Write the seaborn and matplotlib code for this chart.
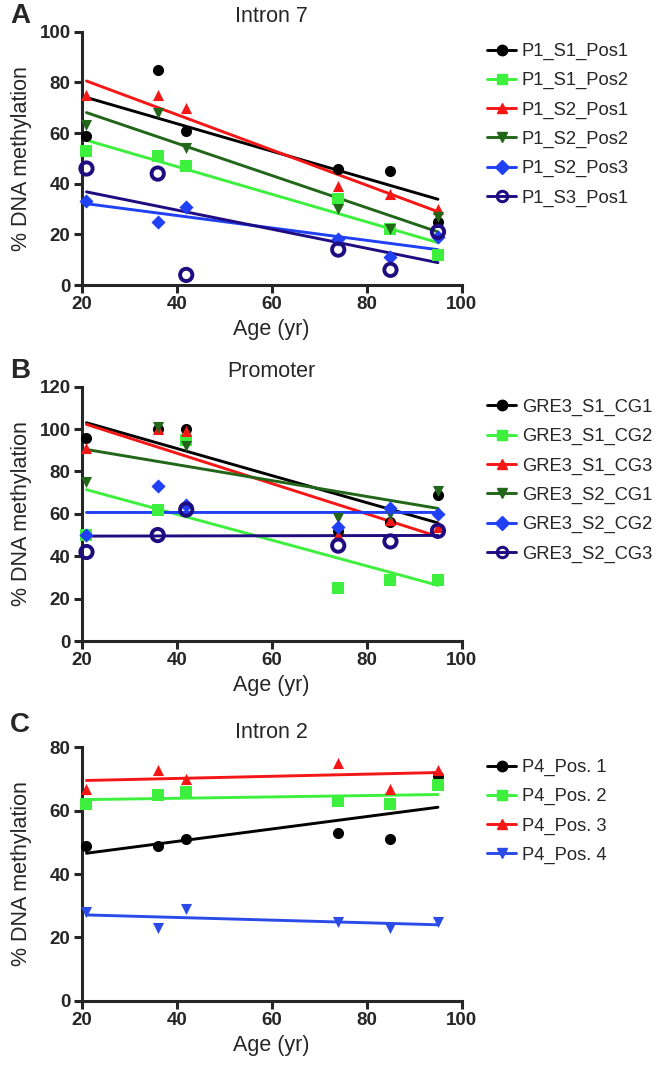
import numpy as np
import pandas as pd
import seaborn as sns
import matplotlib.pyplot as plt
from matplotlib.lines import Line2D

# idades (x) comuns aos tres paineis
age = [21, 36, 42, 74, 85, 95]

# Painel A - Intron 7
labels_a = ['P1_S1_Pos1', 'P1_S1_Pos2', 'P1_S2_Pos1', 'P1_S2_Pos2', 'P1_S2_Pos3', 'P1_S3_Pos1']
p1_s1_pos1 = [59, 85, 61, 46, 45, 25]
p1_s1_pos2 = [53, 51, 47, 34, 22, 12]
p1_s2_pos1 = [75, 75, 70, 39, 36, 30]
p1_s2_pos2 = [63, 68, 54, 30, 22, 27]
p1_s2_pos3 = [33, 25, 31, 18, 11, 19]
p1_s3_pos1 = [46, 44, 4, 14, 6, 21]

# Painel B - Promoter
labels_b = ['GRE3_S1_CG1', 'GRE3_S1_CG2', 'GRE3_S1_CG3', 'GRE3_S2_CG1', 'GRE3_S2_CG2', 'GRE3_S2_CG3']
gre3_s1_cg1 = [96, 100, 100, 52, 56, 69]
gre3_s1_cg2 = [50, 62, 95, 25, 29, 29]
gre3_s1_cg3 = [91, 100, 99, 50, 57, 54]
gre3_s2_cg1 = [75, 101, 92, 58, 60, 71]
gre3_s2_cg2 = [50, 73, 64, 54, 63, 60]
gre3_s2_cg3 = [42, 50, 62, 45, 47, 52]

# Painel C - Intron 2
labels_c = ['P4_Pos. 1', 'P4_Pos. 2', 'P4_Pos. 3', 'P4_Pos. 4']
p4_pos1 = [49, 49, 51, 53, 51, 71]
p4_pos2 = [62, 65, 66, 63, 62, 68]
p4_pos3 = [67, 73, 70, 75, 67, 73]
p4_pos4 = [28, 23, 29, 25, 23, 25]

sns.set_theme(style='ticks')
plt.rcParams['font.family'] = ['Liberation Sans', 'DejaVu Sans']

preto = '#000000'
verde_claro = '#3DF03D'
vermelho = '#F51616'
verde_escuro = '#22661A'
azul = '#2040F5'
roxo = '#1E0C80'
azul_c = '#2A4BE8'

estilo_a = [(preto, 'o', False), (verde_claro, 's', False), (vermelho, '^', False),
            (verde_escuro, 'v', False), (azul, 'D', False), (roxo, 'o', True)]
estilo_c = [(preto, 'o', False), (verde_claro, 's', False), (vermelho, '^', False),
            (azul_c, 'v', False)]

fig = plt.figure(figsize=(6.71, 10.68), dpi=100)
ax_a = fig.add_axes([0.1218, 0.7331, 0.5663, 0.2372])
ax_b = fig.add_axes([0.1218, 0.3998, 0.5663, 0.2381])
ax_c = fig.add_axes([0.1218, 0.0630, 0.5663, 0.2372])


def painel(ax, series, labels, estilos, titulo, ymax, leg_y, letra, letra_y):
    handles = []
    for vals, lab, (cor, mk, aberto) in zip(series, labels, estilos):
        df = pd.DataFrame({'age': age, 'val': vals})
        sk = dict(s=64, alpha=1, linewidths=0, zorder=3, clip_on=False)
        if aberto:
            sk.update(facecolors='none', linewidths=2.8, s=78)
        if mk == 'D':
            sk['s'] = 52
        sns.regplot(data=df, x='age', y='val', ax=ax, ci=None, marker=mk, color=cor,
                    scatter_kws=sk, line_kws=dict(lw=2.1, zorder=2))
        handles.append(Line2D([], [], color=cor, marker=mk, lw=2.1, markersize=7.5 if mk != 'D' else 7,
                              markerfacecolor='none' if aberto else cor,
                              markeredgewidth=2.2 if aberto else 1))
    ax.set_xlim(20, 100)
    ax.set_ylim(0, ymax)
    ax.set_xticks([20, 40, 60, 80, 100])
    ax.set_yticks(np.arange(0, ymax + 1, 20))
    for s in ['top', 'right']:
        ax.spines[s].set_visible(False)
    for s in ['left', 'bottom']:
        ax.spines[s].set_linewidth(2.2)
    ax.tick_params(width=2.2, length=6, pad=2, labelsize=13.5)
    for t in ax.get_xticklabels() + ax.get_yticklabels():
        t.set_fontweight('bold')
    ax.set_xlabel('Age (yr)', fontsize=15.5)
    ax.set_ylabel('% DNA methylation', fontsize=15.5)
    ax.xaxis.set_label_coords(0.5, -0.135)
    ax.yaxis.set_label_coords(-0.13, 0.5)
    ax.set_title(titulo, fontsize=15.5, pad=7)
    ax.legend(handles, labels, loc='upper left', bbox_to_anchor=(0.7258, leg_y),
              bbox_transform=fig.transFigure, frameon=False, fontsize=13.2,
              handlelength=1.6, handletextpad=0.3, labelspacing=0.66,
              borderpad=0, borderaxespad=0)
    fig.text(0.015, letra_y, letra, fontsize=20, fontweight='bold', va='top')


painel(ax_a, [p1_s1_pos1, p1_s1_pos2, p1_s2_pos1, p1_s2_pos2, p1_s2_pos3, p1_s3_pos1],
       labels_a, estilo_a, 'Intron 7', 100, 0.9598, 'A', 0.997)
painel(ax_b, [gre3_s1_cg1, gre3_s1_cg2, gre3_s1_cg3, gre3_s2_cg1, gre3_s2_cg2, gre3_s2_cg3],
       labels_b, estilo_a, 'Promoter', 120, 0.6265, 'B', 0.665)
painel(ax_c, [p4_pos1, p4_pos2, p4_pos3, p4_pos4],
       labels_c, estilo_c, 'Intron 2', 80, 0.2894, 'C', 0.333)

fig.savefig('out.png', dpi=100)
